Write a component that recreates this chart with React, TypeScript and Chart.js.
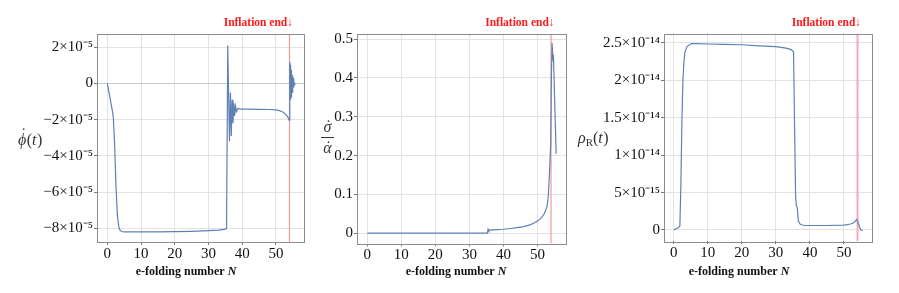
import React, { useEffect, useRef } from "react";
import { Chart, registerables } from "chart.js";

Chart.register(...registerables);

// ---------------- data ----------------
const X_TICKS = [0, 10, 20, 30, 40, 50];
const X_TICK_LABELS = ["0", "10", "20", "30", "40", "50"];
const INFLATION_END_N = 54;
const INFLATION_END_LABEL = "Inflation end↓";
const X_TITLE = "e-folding number ";
const X_TITLE_VAR = "N";

// panel 1: d(phi)/dt, in units of 1e-5
const PHI_N = [
  0, 0.5, 1, 1.5, 1.8, 2.2, 2.6, 3.0, 3.4, 3.8, 4.3, 5, 10, 15, 20, 25, 30, 33, 35, 35.35,
  35.7, 36.2, 36.5, 36.75, 37.0, 37.25, 37.5, 37.75, 38.0, 38.3, 38.7, 39.5, 42, 45, 48, 50,
  51, 52, 53, 53.5, 53.9, 54.0, 54.05, 54.1, 54.15, 54.2, 54.25, 54.3, 54.35, 54.4, 54.45,
  54.5, 54.6, 54.7, 54.8, 54.9, 55.0, 55.1, 55.2, 55.3, 55.4, 55.5, 55.6,
];
const PHI_DOT = [
  0, -0.5, -1.0, -1.5, -1.9, -3.5, -5.8, -7.3, -7.9, -8.12, -8.18, -8.2, -8.2, -8.2, -8.19,
  -8.17, -8.13, -8.1, -8.05, -8.0, 2.1, -3.2, -0.5, -2.9, -0.9, -2.2, -1.1, -1.8, -1.25,
  -1.55, -1.38, -1.42, -1.42, -1.43, -1.44, -1.46, -1.5, -1.58, -1.72, -1.85, -2.03, 1.2,
  -1.0, 1.15, -0.95, 1.05, -0.9, 0.95, -0.85, 0.85, -0.75, 0.75, -0.65, 0.6, -0.5, 0.45,
  -0.38, 0.3, -0.22, 0.15, -0.08, 0.04, 0,
];
const PHI_TICKS = [-8, -6, -4, -2, 0, 2];
const PHI_TICK_LABELS = ["−8×10⁻⁵", "−6×10⁻⁵", "−4×10⁻⁵", "−2×10⁻⁵", "0", "2×10⁻⁵"];

// panel 2: sigma-dot / alpha-dot
const RATIO_N = [
  0, 10, 20, 30, 35.3, 35.5, 35.7, 36, 38, 40, 42, 44, 46, 48, 49, 50, 51, 52, 52.8, 53.2,
  53.5, 53.9, 54.1, 54.3, 54.6, 54.7, 55.5,
];
const RATIO = [
  0, 0, 0, 0, 0, 0.01, 0.006, 0.008, 0.009, 0.01, 0.012, 0.014, 0.017, 0.022, 0.026, 0.031,
  0.038, 0.05, 0.068, 0.095, 0.146, 0.23, 0.4, 0.49, 0.445, 0.46, 0.205,
];
const RATIO_TICKS = [0, 0.1, 0.2, 0.3, 0.4, 0.5];
const RATIO_TICK_LABELS = ["0", "0.1", "0.2", "0.3", "0.4", "0.5"];

// panel 3: rho_R, in units of 1e-14
const RHO_N = [
  0, 0.8, 1.3, 1.8, 2.1, 2.4, 2.7, 3.0, 3.3, 3.9, 5.2, 6, 10, 15, 20, 25, 30, 33, 34.5,
  35.2, 35.5, 35.8, 36.0, 36.3, 36.6, 37.1, 37.6, 38.5, 40, 45, 50, 52, 53, 53.7, 54.1, 54.6,
  55.0, 55.5,
];
const RHO = [
  0, 0.02, 0.03, 0.05, 0.6, 1.45, 2.0, 2.25, 2.38, 2.45, 2.49, 2.49, 2.485, 2.48, 2.475, 2.46,
  2.45, 2.43, 2.41, 2.38, 1.4, 0.45, 0.33, 0.3, 0.12, 0.08, 0.07, 0.06, 0.06, 0.06, 0.065,
  0.08, 0.1, 0.14, 0.11, 0.04, 0.0, -0.01,
];
const RHO_TICKS = [0, 0.5, 1, 1.5, 2, 2.5];
const RHO_TICK_LABELS = ["0", "5×10⁻¹⁵", "1×10⁻¹⁴", "1.5×10⁻¹⁴", "2×10⁻¹⁴", "2.5×10⁻¹⁴"];

// ---------------- layout / style ----------------
const W = 899;
const H = 293;
const Y_AXIS_W = 80;
const X_AXIS_H = 30;
const SERIF = "'Liberation Serif', 'Times New Roman', Times, serif";
const LINE_BLUE = "#5e81b5";
const GRID = "#e2e2e2";
const FRAME = "#8c8c8c";
const LABEL = "#333333";
const TICK_TEXT = "#111111";

type Area = { left: number; top: number; right: number; bottom: number };
type Panel = {
  n: number[];
  y: number[];
  yTicks: number[];
  yTickLabels: string[];
  area: Area;
  xRange: [number, number];
  yRange: [number, number];
  redColor: string;
  redWidth: number;
  titleCx: number;
  zeroDark: boolean;
  drawYLabel: (ctx: CanvasRenderingContext2D) => void;
};

function dotOver(ctx: CanvasRenderingContext2D, cx: number, base: number, size: number) {
  ctx.font = `${size}px ${SERIF}`;
  ctx.textAlign = "center";
  ctx.fillText("˙", cx, base);
  ctx.textAlign = "left";
}

const PANELS: Panel[] = [
  {
    n: PHI_N,
    y: PHI_DOT,
    yTicks: PHI_TICKS,
    yTickLabels: PHI_TICK_LABELS,
    area: { left: 97, top: 34, right: 304, bottom: 242 },
    xRange: [-3.05, 58.3],
    yRange: [-8.76, 2.73],
    redColor: "#f59a9a",
    redWidth: 1.2,
    titleCx: 186,
    zeroDark: true,
    drawYLabel: (ctx) => {
      ctx.fillStyle = LABEL;
      ctx.textBaseline = "alphabetic";
      ctx.textAlign = "left";
      let x = 18;
      const base = 145;
      ctx.font = `italic 16px ${SERIF}`;
      ctx.fillText("ϕ", x, base);
      const w = ctx.measureText("ϕ").width;
      dotOver(ctx, x + w / 2 + 1.5, base - 6, 16);
      x += w + 0.5;
      ctx.font = `16px ${SERIF}`;
      ctx.fillText("(", x, base);
      x += ctx.measureText("(").width;
      ctx.font = `italic 16px ${SERIF}`;
      ctx.fillText("t", x, base);
      x += ctx.measureText("t").width + 0.5;
      ctx.font = `16px ${SERIF}`;
      ctx.fillText(")", x, base);
    },
  },
  {
    n: RATIO_N,
    y: RATIO,
    yTicks: RATIO_TICKS,
    yTickLabels: RATIO_TICK_LABELS,
    area: { left: 357, top: 33.5, right: 566, bottom: 243.5 },
    xRange: [-3.03, 58.4],
    yRange: [-0.0267, 0.5147],
    redColor: "#f59a9a",
    redWidth: 1.2,
    titleCx: 456,
    zeroDark: false,
    drawYLabel: (ctx) => {
      ctx.fillStyle = LABEL;
      ctx.textBaseline = "alphabetic";
      const cx = 327.5;
      ctx.font = `italic 16px ${SERIF}`;
      ctx.textAlign = "center";
      ctx.fillText("σ", cx, 132);
      dotOver(ctx, cx + 1, 131, 16);
      ctx.font = `italic 16px ${SERIF}`;
      ctx.textAlign = "center";
      ctx.fillText("α", cx, 153);
      dotOver(ctx, cx + 1, 152, 16);
      ctx.strokeStyle = LABEL;
      ctx.lineWidth = 1;
      ctx.beginPath();
      ctx.moveTo(321, 137.5);
      ctx.lineTo(334, 137.5);
      ctx.stroke();
    },
  },
  {
    n: RHO_N,
    y: RHO,
    yTicks: RHO_TICKS,
    yTickLabels: RHO_TICK_LABELS,
    area: { left: 664, top: 33.5, right: 872, bottom: 241 },
    xRange: [-2.86, 58.25],
    yRange: [-0.147, 2.625],
    redColor: "#f7a8b4",
    redWidth: 2,
    titleCx: 739,
    zeroDark: false,
    drawYLabel: (ctx) => {
      ctx.fillStyle = LABEL;
      ctx.textBaseline = "alphabetic";
      ctx.textAlign = "left";
      let x = 578;
      const base = 143;
      ctx.font = `italic 16px ${SERIF}`;
      ctx.fillText("ρ", x, base);
      x += ctx.measureText("ρ").width;
      ctx.font = `11px ${SERIF}`;
      ctx.fillText("R", x, base + 3);
      x += ctx.measureText("R").width;
      ctx.font = `16px ${SERIF}`;
      ctx.fillText("(", x, base);
      x += ctx.measureText("(").width;
      ctx.font = `italic 16px ${SERIF}`;
      ctx.fillText("t", x, base);
      x += ctx.measureText("t").width + 0.5;
      ctx.font = `16px ${SERIF}`;
      ctx.fillText(")", x, base);
    },
  },
];

function makeChart(canvas: HTMLCanvasElement, p: Panel) {
  const [yMin, yMax] = p.yRange;
  const overlay = {
    id: "overlay",
    afterDatasetsDraw(chart: any) {
      const ctx: CanvasRenderingContext2D = chart.ctx;
      const a = chart.chartArea;
      ctx.save();
      ctx.strokeStyle = FRAME;
      ctx.lineWidth = 1;
      ctx.strokeRect(Math.round(a.left) + 0.5, Math.round(a.top) + 0.5, Math.round(a.right - a.left), Math.round(a.bottom - a.top));
      // inflation end label
      const rx = chart.scales.x.getPixelForValue(INFLATION_END_N);
      ctx.fillStyle = "#ff1a1a";
      ctx.font = `bold 11.5px ${SERIF}`;
      ctx.textAlign = "right";
      ctx.textBaseline = "alphabetic";
      ctx.fillText(INFLATION_END_LABEL, rx + 3.5, 25.5);
      // x title
      ctx.fillStyle = "#111";
      ctx.font = `bold 12px ${SERIF}`;
      const w1 = ctx.measureText(X_TITLE).width;
      ctx.font = `bold italic 12px ${SERIF}`;
      const w2 = ctx.measureText(X_TITLE_VAR).width;
      const x0 = p.titleCx - (w1 + w2) / 2;
      ctx.textAlign = "left";
      ctx.font = `bold 12px ${SERIF}`;
      ctx.fillText(X_TITLE, x0, 274.5);
      ctx.font = `bold italic 12px ${SERIF}`;
      ctx.fillText(X_TITLE_VAR, x0 + w1, 274.5);
      p.drawYLabel(ctx);
      ctx.restore();
    },
  };

  return new Chart(canvas, {
    type: "line",
    data: {
      datasets: [
        {
          data: p.n.map((x, i) => ({ x, y: p.y[i] })),
          borderColor: LINE_BLUE,
          borderWidth: 1.2,
          pointRadius: 0,
          tension: 0,
          fill: false,
        },
        {
          data: [
            { x: INFLATION_END_N, y: yMin },
            { x: INFLATION_END_N, y: yMax },
          ],
          borderColor: p.redColor,
          borderWidth: p.redWidth,
          pointRadius: 0,
          fill: false,
        },
      ],
    },
    options: {
      responsive: false,
      animation: false,
      devicePixelRatio: 1,
      events: [],
      layout: {
        padding: {
          left: p.area.left - Y_AXIS_W,
          top: p.area.top,
          right: W - p.area.right,
          bottom: H - p.area.bottom - X_AXIS_H,
        },
      },
      plugins: {
        legend: { display: false },
        tooltip: { enabled: false },
        title: { display: false },
      },
      scales: {
        x: {
          type: "linear",
          min: p.xRange[0],
          max: p.xRange[1],
          afterBuildTicks: (s: any) => {
            s.ticks = X_TICKS.map((v) => ({ value: v }));
          },
          afterFit: (s: any) => {
            s.height = X_AXIS_H;
          },
          border: { display: false },
          grid: { color: GRID, lineWidth: 1, tickLength: 3, tickColor: "#777" },
          ticks: {
            autoSkip: false,
            maxRotation: 0,
            padding: 0,
            color: TICK_TEXT,
            font: { family: SERIF, size: 15 },
            callback: (_v: any, i: number) => X_TICK_LABELS[i],
          },
        },
        y: {
          type: "linear",
          min: yMin,
          max: yMax,
          afterBuildTicks: (s: any) => {
            s.ticks = p.yTicks.map((v) => ({ value: v }));
          },
          afterFit: (s: any) => {
            s.width = Y_AXIS_W;
          },
          border: { display: false },
          grid: {
            color: (c: any) => (p.zeroDark && c.tick && c.tick.value === 0 ? "#c8c8c8" : GRID),
            lineWidth: 1,
            tickLength: 3,
            tickColor: "#777",
          },
          ticks: {
            autoSkip: false,
            padding: 1,
            color: TICK_TEXT,
            font: { family: SERIF, size: 15 },
            callback: (_v: any, i: number) => p.yTickLabels[i],
          },
        },
      },
    },
    plugins: [overlay],
  } as any);
}

export default function App() {
  const r0 = useRef<HTMLCanvasElement>(null);
  const r1 = useRef<HTMLCanvasElement>(null);
  const r2 = useRef<HTMLCanvasElement>(null);

  useEffect(() => {
    const refs = [r0, r1, r2];
    const charts = refs.map((r, i) => makeChart(r.current as HTMLCanvasElement, PANELS[i]));
    return () => charts.forEach((c) => c.destroy());
  }, []);

  const cs: React.CSSProperties = { position: "absolute", left: 0, top: 0, width: W, height: H, display: "block" };
  return (
    <div style={{ position: "fixed", left: 0, top: 0, width: W, height: H, background: "#fff", overflow: "hidden" }}>
      <canvas ref={r0} width={W} height={H} style={cs} />
      <canvas ref={r1} width={W} height={H} style={cs} />
      <canvas ref={r2} width={W} height={H} style={cs} />
    </div>
  );
}
